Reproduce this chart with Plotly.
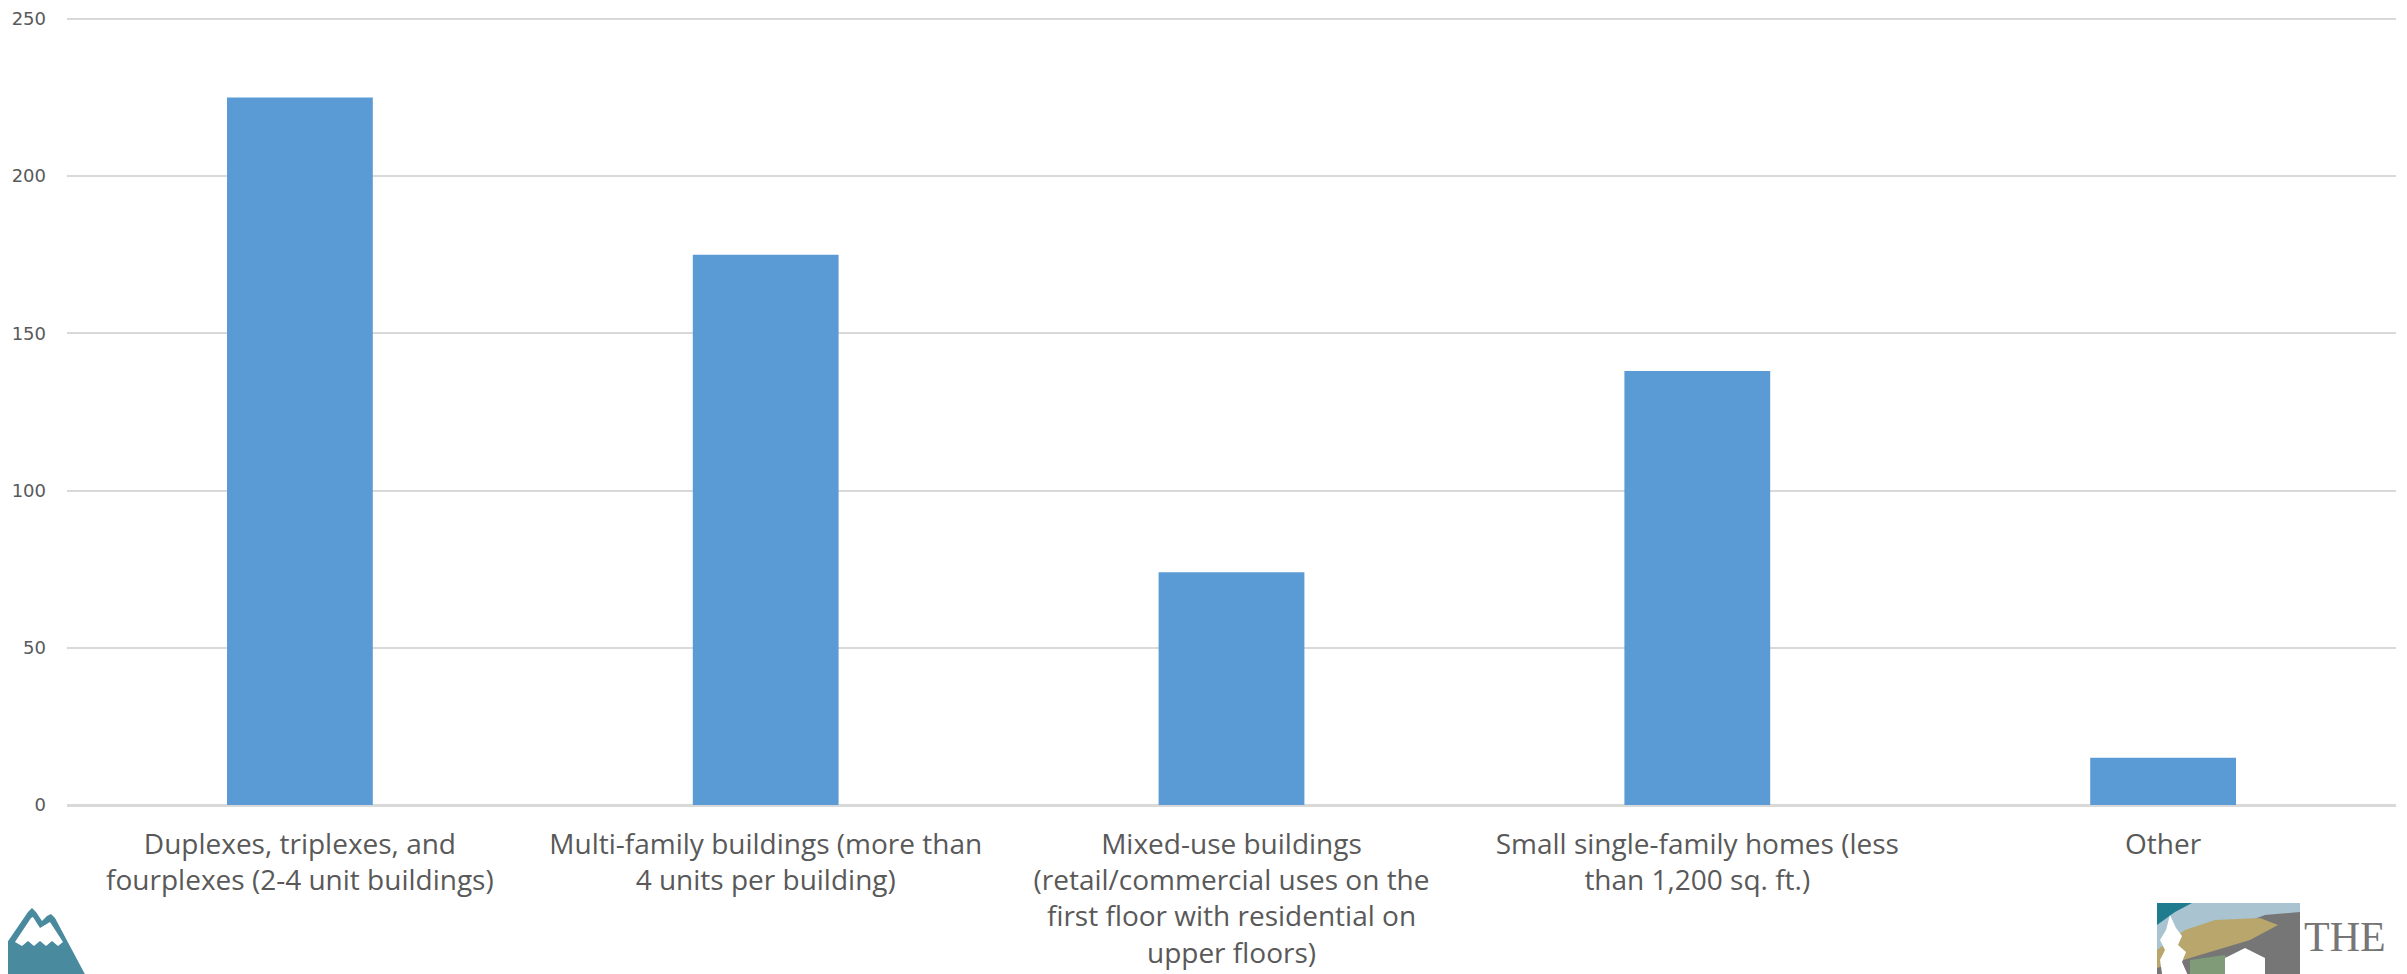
import plotly.graph_objects as go

categories = [
    "Duplexes, triplexes, and<br>fourplexes (2-4 unit buildings)",
    "Multi-family buildings (more than<br>4 units per building)",
    "Mixed-use buildings<br>(retail/commercial uses on the<br>first floor with residential on<br>upper floors)",
    "Small single-family homes (less<br>than 1,200 sq. ft.)",
    "Other",
]
values = [225, 175, 74, 138, 15]
y_ticks = [0, 50, 100, 150, 200, 250]

# page body adds an 8px offset; work in page pixels and shift
OFF = 8
W, H = 2407 - OFF, 974 - OFF
ML, MR, MT, MB = 67 - OFF, 11, 9, 169
PW, PH = W - ML - MR, H - MT - MB


def px(x):
    return (x - OFF - ML) / PW


def py(y):
    return (H - MB - (y - OFF)) / PH


def path(points, close=True):
    s = ""
    for i, (x, y) in enumerate(points):
        s += ("M" if i == 0 else "L") + f"{px(x):.5f},{py(y):.5f} "
    if close:
        s += "Z"
    return s


fig = go.Figure()
fig.add_trace(go.Bar(
    x=list(range(len(categories))), y=values,
    marker=dict(color="#5B9BD5", line=dict(width=0)),
    width=0.313,
))

shapes = []
def add(points, color):
    shapes.append(dict(type="path", xref="paper", yref="paper", path=path(points),
                       fillcolor=color, line=dict(width=0), layer="above"))

# left mountain logo
add([(0, 953), (28, 912), (32, 908), (36, 912), (42, 921), (47, 916), (51, 914), (55, 918), (88, 980), (0, 980)], "#4A8A9F")
add([(15, 942), (31, 918), (33, 917), (40, 928), (50, 922), (63, 942), (58, 946), (52, 941), (46, 946), (40, 941), (34, 946), (28, 941), (22, 946)], "#FFFFFF")

# right logo (approximation)
add([(2157, 903), (2300, 903), (2300, 980), (2157, 980)], "#767676")
add([(2157, 903), (2300, 903), (2300, 912), (2265, 915), (2230, 928), (2190, 940), (2157, 950)], "#A9C4D0")
add([(2157, 903), (2192, 903), (2175, 912), (2157, 925)], "#1F7C8E")
add([(2157, 950), (2185, 930), (2215, 920), (2260, 918), (2278, 925), (2250, 940), (2200, 955), (2157, 968)], "#B9A66C")
add([(2190, 960), (2225, 955), (2235, 980), (2190, 980)], "#7F9B78")
add([(2225, 980), (2225, 958), (2245, 948), (2265, 958), (2265, 980)], "#FFFFFF")
add([(2163, 980), (2160, 960), (2165, 950), (2160, 940), (2166, 930), (2170, 915), (2176, 928), (2182, 936), (2178, 945), (2186, 952), (2182, 962), (2190, 980)], "#FFFFFF")

fig.update_layout(
    width=W, height=H,
    margin=dict(l=ML, r=MR, t=MT, b=MB, autoexpand=False),
    paper_bgcolor="white", plot_bgcolor="white",
    showlegend=False,
    bargap=0.687,
    shapes=shapes,
    font=dict(family="Open Sans, sans-serif", color="#595959"),
    xaxis=dict(
        tickmode="array", tickvals=list(range(len(categories))), ticktext=categories,
        range=[-0.5, len(categories) - 0.5], automargin=False,
        showgrid=False, showline=True, linecolor="#D9D9D9", linewidth=2,
        ticks="", tickfont=dict(family="Open Sans, sans-serif", size=28, color="#595959"),
        ticklabelstandoff=13, tickangle=0, fixedrange=True,
        ticklabeloverflow="allow",
    ),
    yaxis=dict(
        range=[0, 250.6], tickmode="array", tickvals=y_ticks, automargin=False,
        showgrid=True, gridcolor="#D9D9D9", gridwidth=2,
        zeroline=True, zerolinecolor="#D9D9D9", zerolinewidth=2,
        showline=False, ticks="",
        tickfont=dict(family="DejaVu Sans, sans-serif", size=18, color="#595959"),
        ticklabelstandoff=20, fixedrange=True,
        ticklabeloverflow="allow",
    ),
    annotations=[
        dict(text="THE", xref="paper", yref="paper", x=px(2302), y=py(962),
             xanchor="left", yanchor="bottom", showarrow=False,
             font=dict(family="Liberation Serif, serif", size=42, color="#767676")),
    ],
)

fig.write_html("out.html")
